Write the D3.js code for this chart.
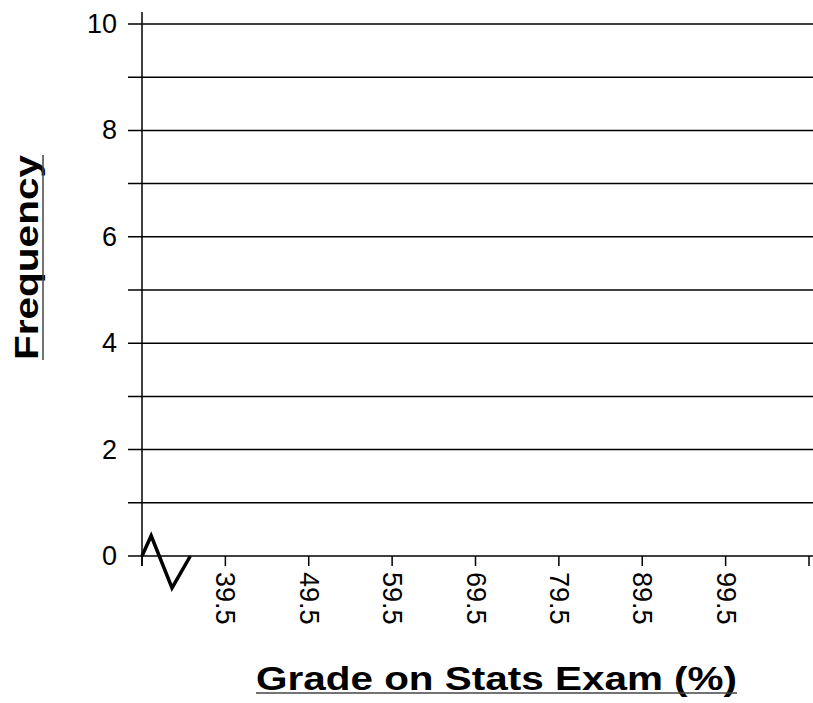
<!DOCTYPE html>
<html>
<head>
<meta charset="utf-8">
<script src="https://cdn.jsdelivr.net/npm/d3@7"></script>
<style>
  html, body { margin: 0; padding: 0; background: #fff; }
  svg { display: block; font-family: "Liberation Sans", Arial, sans-serif; }
</style>
</head>
<body>
<svg id="chart" width="813" height="703"></svg>
<script>
// Class boundaries on the x axis (first one sits on the axis break, unlabeled)
const boundaries = [29.5, 39.5, 49.5, 59.5, 69.5, 79.5, 89.5, 99.5, 109.5];
const labeledBoundaries = [39.5, 49.5, 59.5, 69.5, 79.5, 89.5, 99.5];
// Frequency gridlines and labels
const gridValues = [0, 1, 2, 3, 4, 5, 6, 7, 8, 9, 10];
const yTickLabels = [0, 2, 4, 6, 8, 10];
// Axis break zigzag, in data units
const breakPoints = [
  { x: 29.5, y: 0 },
  { x: 30.6, y: 0.38 },
  { x: 33.1, y: -0.6 },
  { x: 35.3, y: 0 }
];
const xTitle = 'Grade on Stats Exam (%)';
const yTitle = 'Frequency';

const svg = d3.select('#chart');

const x = d3.scaleLinear().domain([29.5, 109.5]).range([142, 809]);
const y = d3.scaleLinear().domain([0, 10]).range([556, 24]);

// Horizontal grid lines (extend a bit left of the axis as ticks)
svg.append('g')
  .selectAll('line')
  .data(gridValues)
  .enter()
  .append('line')
  .attr('x1', 128)
  .attr('x2', 813)
  .attr('y1', d => y(d))
  .attr('y2', d => y(d))
  .attr('stroke', '#000')
  .attr('stroke-width', 1.5);

// Y axis line
svg.append('line')
  .attr('x1', x(29.5))
  .attr('x2', x(29.5))
  .attr('y1', 12)
  .attr('y2', y(0) + 10)
  .attr('stroke', '#000')
  .attr('stroke-width', 1.5);

// Y tick labels
svg.append('g')
  .selectAll('text')
  .data(yTickLabels)
  .enter()
  .append('text')
  .attr('x', 117)
  .attr('y', d => y(d))
  .attr('text-anchor', 'end')
  .attr('dominant-baseline', 'central')
  .attr('font-size', 27)
  .attr('fill', '#000')
  .text(d => d);

// X ticks
svg.append('g')
  .selectAll('line')
  .data(boundaries)
  .enter()
  .append('line')
  .attr('x1', d => x(d))
  .attr('x2', d => x(d))
  .attr('y1', y(0))
  .attr('y2', y(0) + 10)
  .attr('stroke', '#000')
  .attr('stroke-width', 1.5);

// X tick labels, rotated to read downward
svg.append('g')
  .selectAll('text')
  .data(labeledBoundaries)
  .enter()
  .append('text')
  .attr('transform', d => `translate(${x(d)},${y(0) + 16}) rotate(90)`)
  .attr('text-anchor', 'start')
  .attr('dominant-baseline', 'central')
  .attr('font-size', 27)
  .attr('fill', '#000')
  .text(d => d.toFixed(1));

// Axis break zigzag
const zig = d3.line().x(d => x(d.x)).y(d => y(d.y));
svg.append('path')
  .datum(breakPoints)
  .attr('d', zig)
  .attr('fill', 'none')
  .attr('stroke', '#000')
  .attr('stroke-width', 3.5)
  .attr('stroke-linejoin', 'miter');

// X title with underline
svg.append('text')
  .attr('x', 256)
  .attr('y', 690)
  .attr('font-size', 34)
  .attr('font-weight', 'bold')
  .attr('textLength', 481)
  .attr('lengthAdjust', 'spacingAndGlyphs')
  .attr('fill', '#000')
  .text(xTitle);

svg.append('line')
  .attr('x1', 256)
  .attr('x2', 737)
  .attr('y1', 693)
  .attr('y2', 693)
  .attr('stroke', '#444')
  .attr('stroke-width', 1.5);

// Y title with underline
svg.append('text')
  .attr('transform', 'translate(38,360) rotate(-90)')
  .attr('font-size', 34)
  .attr('font-weight', 'bold')
  .attr('textLength', 205)
  .attr('lengthAdjust', 'spacingAndGlyphs')
  .attr('fill', '#000')
  .text(yTitle);

svg.append('line')
  .attr('x1', 43)
  .attr('x2', 43)
  .attr('y1', 155)
  .attr('y2', 360)
  .attr('stroke', '#444')
  .attr('stroke-width', 1.5);
</script>
</body>
</html>
